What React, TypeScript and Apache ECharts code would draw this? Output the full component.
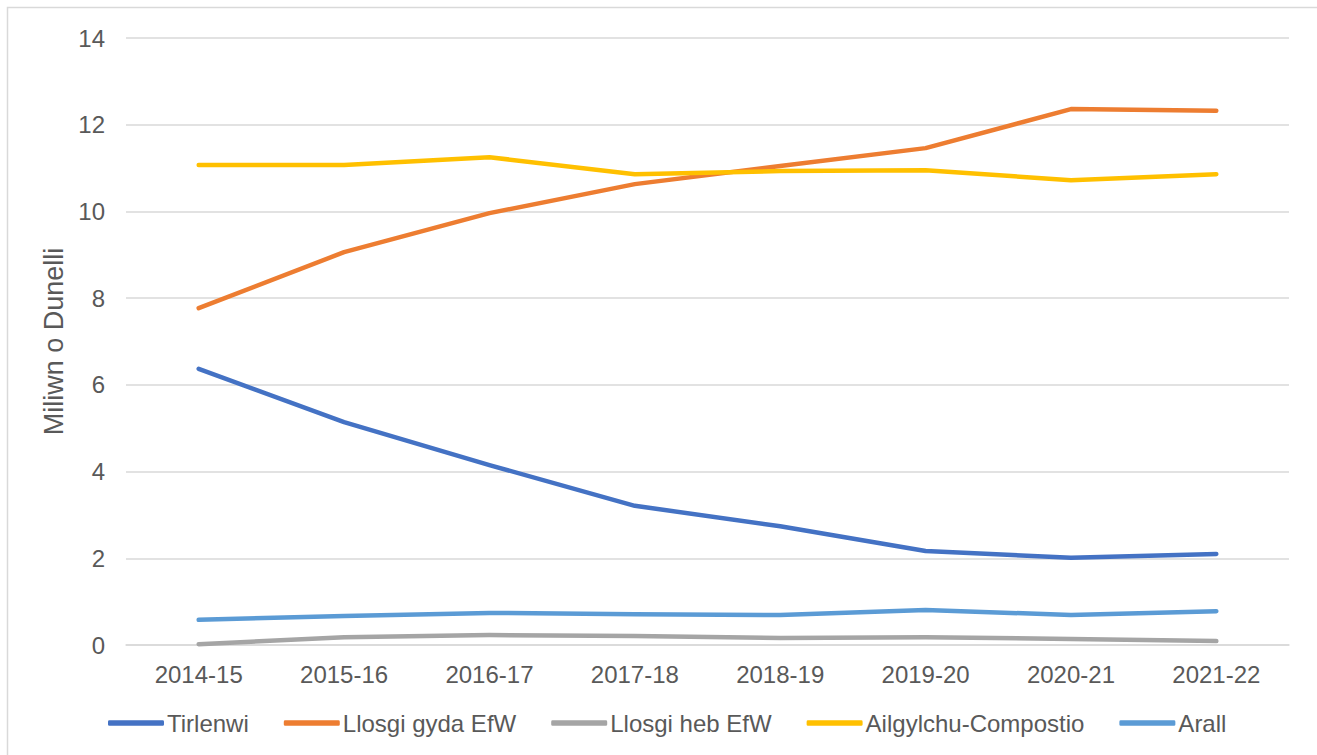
import React, { useEffect, useRef } from "react";
import * as echarts from "echarts";

const categories = ["2014-15", "2015-16", "2016-17", "2017-18", "2018-19", "2019-20", "2020-21", "2021-22"];
const tirlenwi = [6.37, 5.14, 4.15, 3.21, 2.74, 2.17, 2.01, 2.1];
const llosgiGydaEfW = [7.77, 9.06, 9.96, 10.63, 11.05, 11.46, 12.36, 12.32];
const llosgiHebEfW = [0.02, 0.18, 0.23, 0.21, 0.16, 0.18, 0.14, 0.09];
const ailgylchu = [11.07, 11.07, 11.25, 10.86, 10.93, 10.95, 10.72, 10.86];
const arall = [0.58, 0.67, 0.74, 0.71, 0.69, 0.81, 0.69, 0.78];
const yTicks = { min: 0, max: 14, interval: 2 };

const FONT = "'Liberation Sans', Arial, sans-serif";

export default function App() {
  const ref = useRef<HTMLDivElement>(null);
  useEffect(() => {
    const chart = echarts.init(ref.current!, undefined, { renderer: "svg" });
    const mk = (name: string, data: number[], color: string) => ({
      name,
      type: "line",
      data,
      symbol: "none",
      smooth: false,
      lineStyle: { color, width: 4.5, cap: "round", join: "round" },
      itemStyle: { color },
    });
    chart.setOption({
      animation: false,
      backgroundColor: "#ffffff",
      textStyle: { fontFamily: FONT },
      grid: { left: 126, right: 28, top: 38, bottom: 110, containLabel: false },
      xAxis: {
        type: "category",
        data: categories,
        boundaryGap: true,
        axisLine: { show: true, lineStyle: { color: "#d9d9d9", width: 1.5 } },
        axisTick: { show: false },
        axisLabel: { color: "#595959", fontSize: 24, fontFamily: FONT, margin: 17 },
      },
      yAxis: {
        type: "value",
        min: yTicks.min,
        max: yTicks.max,
        interval: yTicks.interval,
        name: "Miliwn o Dunelli",
        nameLocation: "middle",
        nameGap: 58,
        nameTextStyle: { color: "#595959", fontSize: 27, fontFamily: FONT },
        axisLine: { show: false },
        axisTick: { show: false },
        axisLabel: { color: "#595959", fontSize: 24, fontFamily: FONT, margin: 21 },
        splitLine: { lineStyle: { color: "#d9d9d9", width: 1.5 } },
      },
      legend: {
        bottom: 20,
        left: 108,
        padding: 0,
        itemWidth: 56,
        itemHeight: 5.5,
        itemGap: 35,
        icon: "roundRect",
        textStyle: { color: "#595959", fontSize: 24, fontFamily: FONT, padding: [0, 0, 0, -2] },
        data: ["Tirlenwi", "Llosgi gyda EfW", "Llosgi heb EfW", "Ailgylchu-Compostio", "Arall"],
      },
      graphic: [
        {
          type: "rect",
          shape: { x: 7.5, y: 7.5, width: 1320, height: 760 },
          style: { fill: "none", stroke: "#d9d9d9", lineWidth: 1.5 },
          silent: true,
        },
      ],
      series: [
        mk("Tirlenwi", tirlenwi, "#4472C4"),
        mk("Llosgi gyda EfW", llosgiGydaEfW, "#ED7D31"),
        mk("Llosgi heb EfW", llosgiHebEfW, "#A5A5A5"),
        mk("Ailgylchu-Compostio", ailgylchu, "#FFC000"),
        mk("Arall", arall, "#5B9BD5"),
      ],
    });
    return () => chart.dispose();
  }, []);
  return (
    <div
      ref={ref}
      style={{ position: "fixed", left: 0, top: 0, width: 1317, height: 755, background: "#fff" }}
    />
  );
}
